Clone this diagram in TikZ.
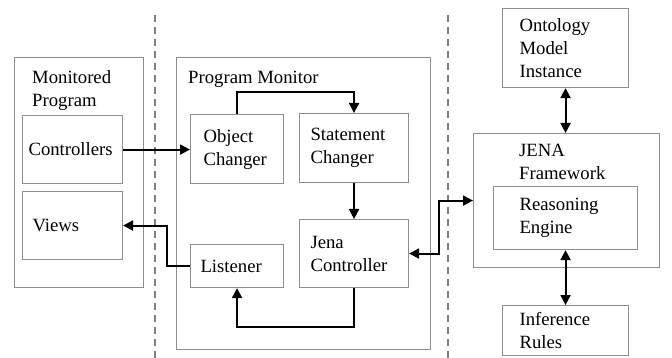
\documentclass[tikz,border=0pt]{standalone}
\usepackage{fontspec}
\setmainfont{Liberation Serif}
\usepackage{tikz}
\usetikzlibrary{arrows.meta,calc,positioning}
\definecolor{Frame}{HTML}{8E8E8E}
\definecolor{Dash}{HTML}{7F7F7F}

\begin{document}
\begin{tikzpicture}[x=1pt,y=-1pt,
    font=\fontsize{18.7}{23}\selectfont,
    box/.style={draw=Frame,line width=1.1pt,anchor=north west,align=left,inner ysep=0pt},
    title/.style={anchor=north west,align=left,inner sep=0pt},
    link/.style={line width=2pt,-{Triangle[length=10pt,width=10pt]}},
    both/.style={line width=2pt,{Triangle[length=10pt,width=10pt]}-{Triangle[length=10pt,width=10pt]}},
    divider/.style={draw=Dash,line width=2pt,dash pattern=on 7pt off 5pt}]
  \useasboundingbox (0,0) rectangle (672,358);

  % tiers
  \draw[divider] (155,15) -- (155,358);
  \draw[divider] (448,15) -- (448,358);

  % monitored program
  \node[box,minimum width=129pt,minimum height=230pt] (mprog) at (14,57) {};
  \node[title] (mprogT) at ([shift={(18,13)}]mprog.north west) {Monitored\\Program};
  \node[box,minimum width=100pt,minimum height=68pt,inner xsep=6pt,text width=88pt] (ctrl) at (22,115) {Controllers};
  \node[box,minimum width=100pt,minimum height=68pt,inner xsep=10pt,text width=80pt] (views) at (22,191) {Views};

  % program monitor
  \node[box,minimum width=254pt,minimum height=292pt] (pmon) at (176,57) {};
  \node[title] (pmonT) at ([shift={(12,14)}]pmon.north west) {Program Monitor};
  \node[box,minimum width=93pt,minimum height=69pt,inner xsep=13pt,text width=67pt] (objc) at (190,114) {Object\\Changer};
  \node[box,minimum width=109pt,minimum height=69pt,inner xsep=11pt,text width=87pt] (stmt) at (299,113) {Statement\\Changer};
  \node[box,minimum width=109pt,minimum height=68pt,inner xsep=11pt,text width=87pt] (jctl) at (299,219) {Jena\\Controller};
  \node[box,minimum width=93pt,minimum height=43pt,inner xsep=10pt,text width=73pt] (lsn) at (190,244) {Listener};

  % ontology side
  \node[box,minimum width=126pt,minimum height=79pt,inner xsep=17pt,text width=92pt] (onto) at (502,8) {Ontology\\Model\\Instance};
  \node[box,minimum width=186pt,minimum height=134pt] (jena) at (473,133) {};
  \node[title] (jenaT) at ([shift={(46,11)}]jena.north west) {JENA\\Framework};
  \node[box,minimum width=144pt,minimum height=63pt,inner xsep=26pt,text width=92pt] (reas) at (493,186) {Reasoning\\Engine};
  \node[box,minimum width=126pt,minimum height=50pt,inner xsep=17pt,text width=92pt] (infr) at (502,305) {Inference\\Rules};

  % flows
  \draw[link] (ctrl.east) -- (ctrl.east -| objc.west);
  \draw[link] (objc.north) -- ++(0,-22) -| (stmt.north);
  \draw[link] (stmt.south) -- (jctl.north);
  \draw[link] (jctl.south) -- ++(0,39) -| (lsn.south);
  \draw[link] (lsn.west) -- ++(-23,0) |- (views.east);
  \draw[both] (jctl.east) -- ++(30,0) |- (jena.west);
  \draw[both] (onto.south) -- (onto.south |- jena.north);
  \draw[both] (reas.south) -- (reas.south |- infr.north);
\end{tikzpicture}
\end{document}
